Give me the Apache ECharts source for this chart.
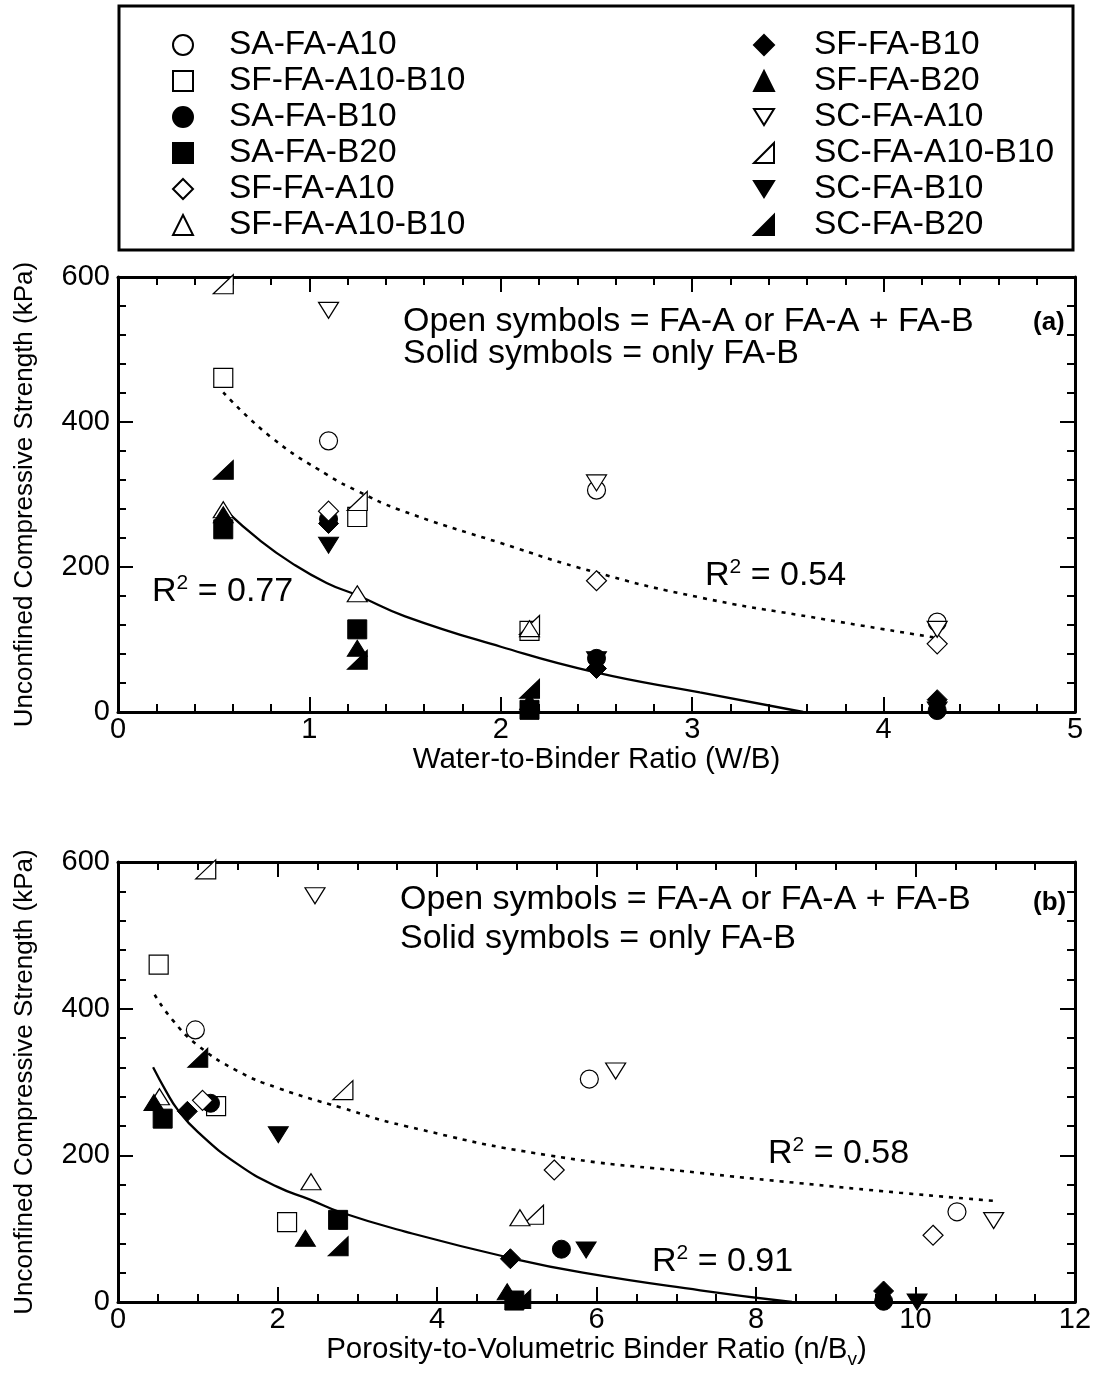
<!DOCTYPE html>
<html><head><meta charset="utf-8">
<script src="https://cdn.jsdelivr.net/npm/echarts@6/dist/echarts.min.js"></script>
<style>html,body{margin:0;padding:0;background:#fff}#c{width:1099px;height:1388px}</style>
</head><body><div id="c"></div>
<script>
// ---- series names / legend ----
const legendLeft = ['SA-FA-A10','SF-FA-A10-B10','SA-FA-B10','SA-FA-B20','SF-FA-A10','SF-FA-A10-B10 '];
const legendRight = ['SF-FA-B10','SF-FA-B20','SC-FA-A10','SC-FA-A10-B10','SC-FA-B10','SC-FA-B20'];

// ---- panel (a): W/B vs UCS (kPa) ----
const a_SA_FA_A10      = [[1.1,374],[2.5,306],[4.28,124]];
const a_SF_FA_A10_B10s = [[0.55,461],[1.25,269],[2.15,112]];
const a_SA_FA_B10      = [[1.1,266],[2.5,74],[4.28,2]];
const a_SA_FA_B20      = [[0.55,252],[1.25,114],[2.15,3]];
const a_SF_FA_A10      = [[1.1,277],[2.5,181],[4.28,94]];
const a_SF_FA_A10_B10t = [[0.55,279],[1.25,163],[2.15,115]];
const a_SF_FA_B10      = [[1.1,260],[2.5,60],[4.28,17]];
const a_SF_FA_B20      = [[0.55,272],[1.25,88],[2.15,14]];
const a_SC_FA_A10      = [[1.1,554],[2.5,316],[4.28,114]];
const a_SC_FA_A10_B10  = [[0.55,590],[1.25,291],[2.15,120]];
const a_SC_FA_B10      = [[1.1,230],[2.5,72],[4.28,3]];
const a_SC_FA_B20      = [[0.55,334],[1.25,72],[2.15,32]];
// fitted trend curves
const a_fitOpen  = [[0.55,441],[0.8,379],[1.1,326],[1.25,305],[1.47,279],[2.0,233],[2.49,193],[3.04,158],[3.62,131],[4.26,103]];
const a_fitSolid = [[0.57,276],[0.74,237],[0.91,205],[1.09,178],[1.25,161],[1.5,132],[2.0,90],[2.49,55],[3.04,27],[3.58,0]];

// ---- panel (b): n/Bv vs UCS (kPa) ----
const b_SA_FA_A10      = [[0.97,371],[5.91,304],[10.52,123]];
const b_SF_FA_A10_B10s = [[0.51,460],[1.23,267],[2.12,109]];
const b_SA_FA_B10      = [[1.16,271],[5.56,72],[9.6,1]];
const b_SA_FA_B20      = [[0.56,250],[2.76,112],[4.97,2]];
const b_SF_FA_A10      = [[1.06,275],[5.47,180],[10.22,91]];
const b_SF_FA_A10_B10t = [[0.52,280],[2.42,164],[5.04,115]];
const b_SF_FA_B10      = [[0.87,260],[4.92,59],[9.6,15]];
const b_SF_FA_B20      = [[0.45,272],[2.35,87],[4.88,14]];
const b_SC_FA_A10      = [[2.47,554],[6.24,315],[10.98,111]];
const b_SC_FA_A10_B10  = [[1.1,590],[2.82,289],[5.21,119]];
const b_SC_FA_B10      = [[2.01,228],[5.87,71],[10.02,0]];
const b_SC_FA_B20      = [[1.0,333],[2.76,76],[5.05,4]];
const b_fitOpen  = [[0.46,419],[0.68,385],[1.0,350],[1.5,315],[2.0,292],[2.8,265],[3.6,240],[5.4,200],[7.3,176],[8.55,162],[9.8,149],[10.97,138]];
const b_fitSolid = [[0.44,320],[0.6,288],[0.75,262],[1.0,232],[1.5,188],[2.0,157],[2.4,140],[2.8,122],[3.6,96],[4.92,60],[5.83,40],[7.3,16],[8.45,0]];

// ---- axis ranges: [min, max, interval] ----
const yTicks = [0, 600, 200];
const xTicksA = [0, 5, 1];
const xTicksB = [0, 12, 2];

const FONT = '"Liberation Sans", Arial, sans-serif';
const SYM = {
  circle: 'circle', square: 'rect', diamond: 'diamond', up: 'triangle',
  down: 'path://M0,0L2,0L1,1.6Z', half: 'path://M0,1L1,0L1,1Z'
};
const open = {color:'#fff', borderColor:'#000', borderWidth:1.2, opacity:1};
const solid = {color:'#000', borderColor:'#000', borderWidth:1, opacity:1};
const seriesDefs = [
  ['SF-FA-A10-B10', SYM.square, 19, open, a_SF_FA_A10_B10s, b_SF_FA_A10_B10s],
  ['SC-FA-A10-B10', SYM.half, [20,19], open, a_SC_FA_A10_B10, b_SC_FA_A10_B10],
  ['SF-FA-A10-B10 ', SYM.up, [20,16], open, a_SF_FA_A10_B10t, b_SF_FA_A10_B10t],
  ['SA-FA-B20', SYM.square, 19, solid, a_SA_FA_B20, b_SA_FA_B20],
  ['SF-FA-B20', SYM.up, [20,16], solid, a_SF_FA_B20, b_SF_FA_B20],
  ['SC-FA-B20', SYM.half, [20,19], solid, a_SC_FA_B20, b_SC_FA_B20],
  ['SA-FA-B10', SYM.circle, 18, solid, a_SA_FA_B10, b_SA_FA_B10],
  ['SF-FA-B10', SYM.diamond, [20,20], solid, a_SF_FA_B10, b_SF_FA_B10],
  ['SC-FA-B10', SYM.down, [20,16], solid, a_SC_FA_B10, b_SC_FA_B10],
  ['SA-FA-A10', SYM.circle, 18, open, a_SA_FA_A10, b_SA_FA_A10],
  ['SF-FA-A10', SYM.diamond, [20,20], open, a_SF_FA_A10, b_SF_FA_A10],
  ['SC-FA-A10', SYM.down, [20,16], open, a_SC_FA_A10, b_SC_FA_A10]
];

const series = [];
function fit(data, xi, dashed) {
  series.push({type:'line', xAxisIndex: xi, yAxisIndex: xi, data, smooth: 0.5, showSymbol:false, silent:true,
    lineStyle:{color:'#000', width: dashed ? 2.6 : 2.3, type: dashed ? [4,6] : 'solid', opacity:1}, z:1});
}
fit(a_fitOpen, 0, true); fit(a_fitSolid, 0, false);
fit(b_fitOpen, 1, true); fit(b_fitSolid, 1, false);
seriesDefs.forEach(d => {
  [0,1].forEach(p => series.push({
    type:'scatter', name:d[0], xAxisIndex:p, yAxisIndex:p, data: p===0 ? d[4] : d[5],
    symbol:d[1], symbolSize:d[2], itemStyle:d[3], z:3
  }));
});

const tickCommon = {
  axisLine:{onZero:false, lineStyle:{color:'#000', width:3}},
  axisTick:{inside:true, length:15, lineStyle:{color:'#000', width:2}},
  minorTick:{show:true, length:8, lineStyle:{color:'#000', width:2}},
  splitLine:{show:false}
};
function xAx(grid, t, name, pos, minor) {
  return Object.assign({}, tickCommon, {
    gridIndex:grid, type:'value', position:pos, min:t[0], max:t[1], interval:t[2],
    minorTick:Object.assign({}, tickCommon.minorTick, {splitNumber:minor}),
    axisLabel:{show: pos==='bottom', fontSize:29, color:'#000', fontFamily:FONT, margin:3},
    name: pos==='bottom' ? name : '', nameLocation:'middle', nameGap:21,
    nameTextStyle:{fontSize:29.5, color:'#000', fontFamily:FONT,
      rich:{sub:{fontSize:19, fontFamily:FONT, color:'#000', padding:[20,0,0,0]}}}
  });
}
function yAx(grid, pos) {
  return Object.assign({}, tickCommon, {
    gridIndex:grid, type:'value', position:pos, min:yTicks[0], max:yTicks[1], interval:yTicks[2],
    minorTick:Object.assign({}, tickCommon.minorTick, {splitNumber:5}),
    axisLabel:{show: pos==='left', fontSize:29, color:'#000', fontFamily:FONT, margin:8},
    name: pos==='left' ? 'Unconfined Compressive Strength (kPa)' : '', nameLocation:'middle', nameGap:80,
    nameTextStyle:{fontSize:26, color:'#000', fontFamily:FONT}
  });
}

function rtext(left, top, main, sup, rest) {
  return {type:'text', left, top, style:{
    text:'{m|' + main + '}{s|' + sup + '}{m|' + rest + '}',
    rich:{m:{fontSize:34, fontFamily:FONT, fill:'#000', lineHeight:38},
          s:{fontSize:21, fontFamily:FONT, fill:'#000', padding:[0,0,17,0]}}}};
}
function ptext(left, top, text, size, bold) {
  return {type:'text', left, top, style:{text, fontSize:size, fontFamily:FONT, fill:'#000', fontWeight: bold ? 'bold':'normal'}};
}

const legendTextL = {fontSize:33.5, fontFamily:FONT, color:'#000', padding:[0,0,0,31], lineHeight:30};
const legendTextR = Object.assign({}, legendTextL, {padding:[0,0,0,35]});
const option = {
  backgroundColor:'#fff',
  animation:false,
  grid:[
    {left:118, top:277, width:957, height:435},
    {left:118, top:862, width:957, height:440}
  ],
  xAxis:[
    xAx(0, xTicksA, 'Water-to-Binder Ratio (W/B)', 'bottom', 5),
    xAx(1, xTicksB, 'Porosity-to-Volumetric Binder Ratio (n/B{sub|v})', 'bottom', 4),
    xAx(0, xTicksA, '', 'top', 5),
    xAx(1, xTicksB, '', 'top', 4)
  ],
  yAxis:[ yAx(0,'left'), yAx(1,'left'), yAx(0,'right'), yAx(1,'right') ],
  legend:[
    {data:legendLeft, orient:'vertical', left:167, top:23, itemWidth:20, itemHeight:20, itemGap:2,
     textStyle:legendTextL, selectedMode:false},
    {data:legendRight, orient:'vertical', left:748, top:23, itemWidth:20, itemHeight:20, itemGap:2,
     textStyle:legendTextR, selectedMode:false}
  ],
  graphic:[
    {type:'rect', shape:{x:119, y:6, width:954, height:244}, style:{fill:'none', stroke:'#000', lineWidth:3}},
    ptext(403, 305, 'Open symbols = FA-A or FA-A + FA-B', 34),
    ptext(403, 337, 'Solid symbols = only FA-B', 34),
    ptext(1033, 310, '(a)', 26, true),
    rtext(152, 573, 'R', '2', ' = 0.77'),
    rtext(705, 557, 'R', '2', ' = 0.54'),
    ptext(400, 883, 'Open symbols = FA-A or FA-A + FA-B', 34),
    ptext(400, 922, 'Solid symbols = only FA-B', 34),
    ptext(1033, 890, '(b)', 26, true),
    rtext(768, 1135, 'R', '2', ' = 0.58'),
    rtext(652, 1243, 'R', '2', ' = 0.91')
  ],
  series
};
echarts.init(document.getElementById('c')).setOption(option);
</script></body></html>
